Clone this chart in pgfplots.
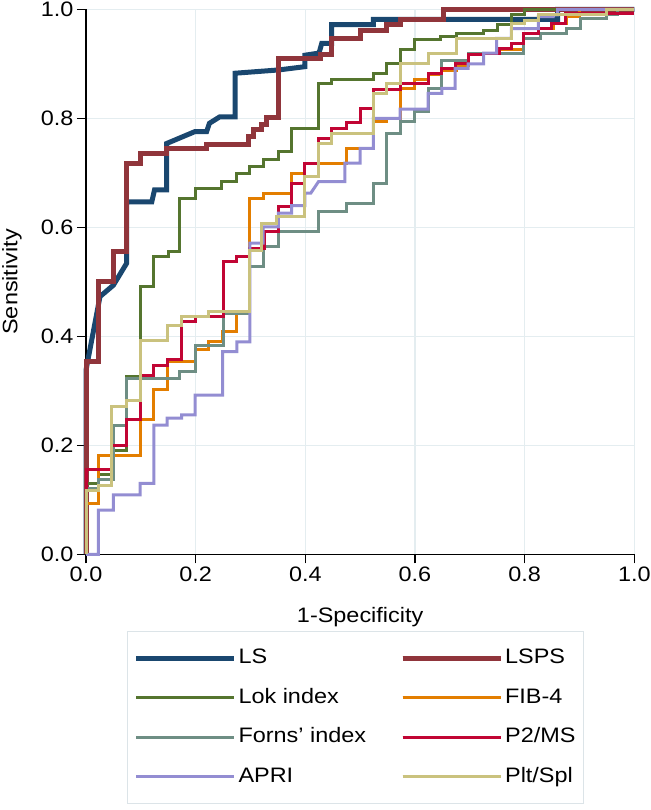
\documentclass[border=0pt]{standalone}
\usepackage{fontspec}
\setmainfont[FakeStretch=1.12]{Liberation Sans}
\usepackage{pgfplots}
\pgfplotsset{compat=1.18}
\definecolor{cLS}{RGB}{26,71,111}
\definecolor{cLSPS}{RGB}{144,53,59}
\definecolor{cLok}{RGB}{85,117,47}
\definecolor{cFIB}{RGB}{227,126,0}
\definecolor{cForns}{RGB}{110,142,132}
\definecolor{cP2}{RGB}{193,5,52}
\definecolor{cAPRI}{RGB}{147,141,210}
\definecolor{cPlt}{RGB}{202,194,126}
\definecolor{gridc}{RGB}{228,237,240}
\definecolor{legc}{RGB}{220,228,232}
\begin{document}
\begin{tikzpicture}[x=1bp,y=1bp]
\useasboundingbox (0,0) rectangle (651,810);
\begin{axis}[
  at={(86bp,255.7bp)}, anchor=south west,
  scale only axis, width=548.3bp, height=544.8bp,
  xmin=0, xmax=1, ymin=0, ymax=1,
  axis lines*=left,
  axis line style={black, line width=1.2bp},
  xtick={0,0.2,0.4,0.6,0.8,1}, ytick={0,0.2,0.4,0.6,0.8,1},
  xticklabels={0.0,0.2,0.4,0.6,0.8,1.0},
  yticklabels={0.0,0.2,0.4,0.6,0.8,1.0},
  /pgf/number format/assume math mode=true,
  grid=major, major grid style={gridc, line width=1.2bp},
  tick style={black, line width=1.2bp}, tick align=outside, major tick length=9bp,
  clip=false,
  ticklabel style={font=\fontsize{21}{24}\selectfont},
  xlabel={1-Specificity}, ylabel={Sensitivity},
  label style={font=\fontsize{21}{24}\selectfont},
  xlabel style={at={(axis description cs:0.5,-0.115)}, anchor=center},
  ylabel style={at={(axis description cs:-0.135,0.5)}, anchor=center},
  legend columns=2,
  legend cell align=left,
  legend style={at={(axis description cs:0.0748,-0.1408)}, anchor=north west,
    draw=legc, line width=1bp, fill=white,
    inner xsep=6bp, inner ysep=14bp, row sep=14.5bp,
    nodes={font=\fontsize{21}{24}\selectfont, text height=15bp, text depth=4bp, inner ysep=3bp},
    /tikz/every even column/.append style={column sep=32bp}},
  legend image code/.code={\draw[#1] (0bp,0bp) -- (87bp,0bp); \path (0bp,0bp) -- (98bp,0bp);},
]
\addplot[cLS, line width=5bp] coordinates {(0,0)(0,0.338)(0.0255,0.473)(0.05,0.494)(0.074,0.534)(0.074,0.647)(0.12,0.647)(0.125,0.669)(0.147,0.669)(0.147,0.754)(0.199,0.776)(0.22,0.776)(0.225,0.791)(0.244,0.803)(0.272,0.803)(0.272,0.883)(0.351,0.889)(0.399,0.895)(0.399,0.916)(0.425,0.92)(0.43,0.938)(0.448,0.938)(0.448,0.972)(0.524,0.972)(0.524,0.982)(0.86,0.982)(0.86,1)(1,1)};
\addlegendentry{LS}
\addplot[cLSPS, line width=5bp] coordinates {(0,0)(0,0.354)(0.022,0.354)(0.022,0.500)(0.05,0.500)(0.05,0.555)(0.074,0.555)(0.074,0.718)(0.0985,0.718)(0.0985,0.736)(0.147,0.736)(0.147,0.745)(0.22,0.745)(0.22,0.753)(0.296,0.753)(0.296,0.767)(0.305,0.767)(0.305,0.779)(0.320,0.779)(0.320,0.788)(0.330,0.788)(0.330,0.802)(0.351,0.802)(0.351,0.910)(0.427,0.910)(0.427,0.917)(0.448,0.917)(0.448,0.947)(0.5,0.947)(0.5,0.962)(0.548,0.962)(0.548,0.972)(0.573,0.972)(0.573,0.982)(0.652,0.982)(0.652,1)(1,1)};
\addlegendentry{LSPS}
\addplot[cLok, line width=3bp] coordinates {(0,0)(0,0.13)(0.022,0.13)(0.022,0.146)(0.05,0.146)(0.05,0.191)(0.074,0.191)(0.074,0.327)(0.0985,0.327)(0.0985,0.491)(0.123,0.491)(0.123,0.546)(0.150,0.546)(0.150,0.555)(0.171,0.555)(0.171,0.653)(0.199,0.653)(0.199,0.672)(0.247,0.672)(0.247,0.684)(0.275,0.684)(0.275,0.699)(0.299,0.699)(0.299,0.711)(0.323,0.711)(0.323,0.724)(0.351,0.724)(0.351,0.739)(0.375,0.739)(0.375,0.782)(0.424,0.782)(0.424,0.865)(0.448,0.865)(0.448,0.872)(0.524,0.872)(0.524,0.882)(0.548,0.882)(0.548,0.900)(0.573,0.900)(0.573,0.926)(0.600,0.926)(0.600,0.944)(0.646,0.944)(0.646,0.95)(0.676,0.95)(0.676,0.956)(0.725,0.956)(0.725,0.962)(0.75,0.962)(0.75,0.972)(0.776,0.972)(0.776,0.99)(0.80,0.99)(0.80,1)(1,1)};
\addlegendentry{Lok index}
\addplot[cFIB, line width=3bp] coordinates {(0,0)(0,0.094)(0.0225,0.094)(0.0225,0.182)(0.0985,0.182)(0.0985,0.247)(0.124,0.247)(0.124,0.302)(0.148,0.302)(0.148,0.354)(0.199,0.354)(0.199,0.375)(0.223,0.375)(0.223,0.39)(0.249,0.39)(0.249,0.409)(0.275,0.409)(0.275,0.442)(0.299,0.442)(0.299,0.653)(0.323,0.653)(0.323,0.663)(0.375,0.663)(0.375,0.699)(0.399,0.699)(0.399,0.718)(0.475,0.718)(0.475,0.745)(0.524,0.745)(0.524,0.794)(0.548,0.794)(0.548,0.80)(0.573,0.80)(0.573,0.855)(0.600,0.855)(0.600,0.872)(0.624,0.872)(0.624,0.880)(0.649,0.880)(0.649,0.888)(0.676,0.888)(0.676,0.898)(0.697,0.898)(0.697,0.920)(0.755,0.920)(0.755,0.926)(0.798,0.926)(0.798,0.956)(0.825,0.956)(0.825,0.965)(0.852,0.965)(0.852,0.975)(0.877,0.975)(0.877,0.987)(0.90,0.987)(0.90,1)(1,1)};
\addlegendentry{FIB-4}
\addplot[cForns, line width=3bp] coordinates {(0,0)(0,0.12)(0.0225,0.12)(0.0225,0.138)(0.05,0.138)(0.05,0.237)(0.074,0.237)(0.074,0.323)(0.171,0.323)(0.171,0.335)(0.199,0.335)(0.199,0.384)(0.25,0.384)(0.25,0.442)(0.299,0.442)(0.299,0.528)(0.323,0.528)(0.323,0.565)(0.351,0.565)(0.351,0.592)(0.424,0.592)(0.424,0.629)(0.475,0.629)(0.475,0.644)(0.524,0.644)(0.524,0.681)(0.548,0.681)(0.548,0.773)(0.573,0.773)(0.573,0.794)(0.600,0.794)(0.600,0.812)(0.624,0.812)(0.624,0.855)(0.649,0.855)(0.649,0.907)(0.697,0.907)(0.697,0.92)(0.798,0.92)(0.798,0.947)(0.828,0.947)(0.828,0.956)(0.877,0.956)(0.877,0.966)(0.901,0.966)(0.901,0.984)(0.95,0.984)(0.95,0.99)(0.97,0.99)(0.97,1)(1,1)};
\addlegendentry{Forns' index}
\addplot[cP2, line width=3bp] coordinates {(0,0)(0,0.155)(0.047,0.155)(0.047,0.2)(0.074,0.2)(0.074,0.247)(0.0985,0.247)(0.0985,0.329)(0.124,0.329)(0.124,0.347)(0.148,0.347)(0.148,0.357)(0.1745,0.357)(0.1745,0.427)(0.199,0.427)(0.199,0.436)(0.25,0.436)(0.25,0.537)(0.275,0.537)(0.275,0.546)(0.299,0.546)(0.299,0.562)(0.326,0.562)(0.326,0.592)(0.351,0.592)(0.351,0.638)(0.375,0.638)(0.375,0.681)(0.399,0.681)(0.399,0.718)(0.424,0.718)(0.424,0.764)(0.448,0.764)(0.448,0.782)(0.475,0.782)(0.475,0.792)(0.5,0.792)(0.5,0.819)(0.524,0.819)(0.524,0.854)(0.573,0.854)(0.573,0.865)(0.624,0.865)(0.624,0.882)(0.649,0.882)(0.649,0.892)(0.673,0.892)(0.673,0.90)(0.697,0.90)(0.697,0.917)(0.725,0.917)(0.725,0.92)(0.755,0.92)(0.755,0.929)(0.776,0.929)(0.776,0.938)(0.798,0.938)(0.798,0.956)(0.825,0.956)(0.825,0.965)(0.849,0.965)(0.849,0.975)(0.875,0.975)(0.875,0.993)(1,0.993)};
\addlegendentry{P2/MS}
\addplot[cAPRI, line width=3bp] coordinates {(0,0)(0.0225,0)(0.0225,0.081)(0.05,0.081)(0.05,0.109)(0.0985,0.109)(0.0985,0.130)(0.124,0.130)(0.124,0.237)(0.148,0.237)(0.148,0.25)(0.1745,0.25)(0.1745,0.256)(0.199,0.256)(0.199,0.292)(0.249,0.292)(0.249,0.372)(0.275,0.372)(0.275,0.39)(0.299,0.39)(0.299,0.571)(0.323,0.571)(0.323,0.601)(0.351,0.601)(0.351,0.626)(0.375,0.626)(0.375,0.64)(0.399,0.64)(0.399,0.663)(0.41,0.663)(0.424,0.684)(0.472,0.684)(0.472,0.718)(0.5,0.718)(0.5,0.745)(0.524,0.745)(0.524,0.80)(0.573,0.80)(0.573,0.817)(0.624,0.817)(0.624,0.846)(0.649,0.846)(0.649,0.855)(0.673,0.855)(0.673,0.892)(0.697,0.892)(0.697,0.90)(0.725,0.90)(0.725,0.92)(0.749,0.92)(0.749,0.947)(0.776,0.947)(0.776,0.965)(0.825,0.965)(0.825,0.987)(0.852,0.987)(0.852,0.99)(0.86,0.99)(0.86,1)(1,1)};
\addlegendentry{APRI}
\addplot[cPlt, line width=3bp] coordinates {(0,0)(0,0.118)(0.0225,0.118)(0.0225,0.127)(0.047,0.127)(0.047,0.271)(0.074,0.271)(0.074,0.283)(0.0985,0.283)(0.0985,0.393)(0.149,0.393)(0.149,0.42)(0.1745,0.42)(0.1745,0.436)(0.223,0.436)(0.223,0.445)(0.299,0.445)(0.299,0.558)(0.32,0.558)(0.32,0.607)(0.348,0.607)(0.348,0.62)(0.399,0.62)(0.399,0.693)(0.424,0.693)(0.424,0.754)(0.448,0.754)(0.448,0.773)(0.524,0.773)(0.524,0.846)(0.548,0.846)(0.548,0.865)(0.573,0.865)(0.573,0.90)(0.624,0.90)(0.624,0.92)(0.676,0.92)(0.676,0.947)(0.776,0.947)(0.776,0.975)(0.80,0.975)(0.80,0.98)(0.825,0.98)(0.825,0.99)(0.95,0.99)(0.95,1)(1,1)};
\addlegendentry{Plt/Spl}
\end{axis}
\end{tikzpicture}
\end{document}
